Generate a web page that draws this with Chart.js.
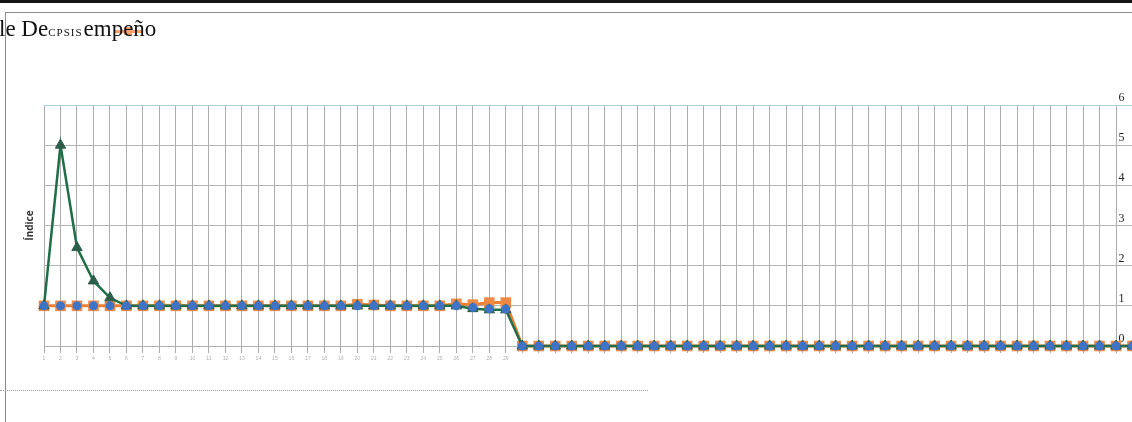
<!DOCTYPE html>
<html>
<head>
<meta charset="utf-8">
<script src="https://cdn.jsdelivr.net/npm/chart.js@4/dist/chart.umd.min.js"></script>
<style>
  html, body { margin: 0; padding: 0; background: #fff; overflow: hidden; width: 1132px; height: 422px; }
  #chart { position: absolute; left: 0; top: 0; }
  .topbar { position: absolute; left: 0; top: 0; width: 1132px; height: 3px; background: #151515; }
  .frameTop { position: absolute; left: 5px; top: 12px; width: 1127px; border-top: 1px solid #8c8c8c; }
  .frameLeft { position: absolute; left: 5px; top: 12px; height: 410px; border-left: 1px solid #8c8c8c; }
  .dots { position: absolute; left: 0; top: 390px; width: 648px; border-top: 1px dotted #a0a0a0; }
  #title { position: absolute; left: -1px; top: 16px; font-family: "Liberation Serif", serif; font-size: 23px; color: #111; white-space: nowrap; z-index: 2; }
  #title .lg { font-size: 11px; letter-spacing: 1px; margin-right: 1px; }
  .mark { position: absolute; left: 114px; top: 30px; width: 28px; height: 3px; background: #ed7d31; opacity: 0.7; z-index: 1; }
  .mark i { position: absolute; left: 10px; top: -3px; width: 8px; height: 8px; background: #ed7d31; }
</style>
</head>
<body>
<div class="topbar"></div>
<div class="frameTop"></div>
<div class="frameLeft"></div>
<canvas id="chart" width="1140" height="380"></canvas>
<div class="mark"><i></i></div>
<div id="title">le De<span class="lg">CPSIS</span>empeño</div>
<div class="dots"></div>
<script>
// categories (periods)
const periods = ['1','2','3','4','5','6','7','8','9','10','11','12','13','14','15','16','17','18','19','20',
  '21','22','23','24','25','26','27','28','29','30','31','32','33','34','35','36','37','38','39','40',
  '41','42','43','44','45','46','47','48','49','50','51','52','53','54','55','56','57','58','59','60',
  '61','62','63','64','65','66','67'];

// orange squares
const serieCP = [1,1,1,1,1,1,1,1,1,1,1,1,1,1,1,1,1,1,1,1.04,
  1.02,1,1,1,1,1.05,1.03,1.08,1.08,0,0,0,0,0,0,0,0,0,0,0,
  0,0,0,0,0,0,0,0,0,0,0,0,0,0,0,0,0,0,0,0,
  0,0,0,0,0,0,0];

// green triangles
const serieSI = [1,5,2.45,1.62,1.2,1,1,1,1,1,1,1,1,1,1,1,1,1,1,1,
  1,1,1,1,1,1,0.93,0.9,0.9,0,0,0,0,0,0,0,0,0,0,0,
  0,0,0,0,0,0,0,0,0,0,0,0,0,0,0,0,0,0,0,0,
  0,0,0,0,0,0,0];

// blue circles
const serieIS = [1,1,1,1,1,1,1,1,1,1,1,1,1,1,1,1,1,1,1,1,
  1,1,1,1,1,1,0.96,0.93,0.92,0,0,0,0,0,0,0,0,0,0,0,
  0,0,0,0,0,0,0,0,0,0,0,0,0,0,0,0,0,0,0,0,
  0,0,0,0,0,0,0];

const yTicks = [0, 1, 2, 3, 4, 5, 6];
const lastLabelled = 28;

new Chart(document.getElementById('chart'), {
  type: 'line',
  data: {
    labels: periods,
    datasets: [
      {
        label: 'IS',
        data: serieIS,
        showLine: false,
        pointStyle: 'circle',
        pointRadius: 4.5,
        backgroundColor: '#3f73c6',
        borderColor: '#3f73c6',
        borderWidth: 0,
        clip: false,
        order: 1
      },
      {
        label: 'SI',
        data: serieSI,
        borderColor: '#1f6e46',
        borderWidth: 2.5,
        pointStyle: 'triangle',
        pointRadius: 6,
        pointBackgroundColor: '#2d5e4c',
        pointBorderColor: '#2d5e4c',
        pointBorderWidth: 1,
        tension: 0,
        clip: false,
        order: 2
      },
      {
        label: 'CP',
        data: serieCP,
        borderColor: '#ed7d31',
        borderWidth: 3,
        pointStyle: 'rect',
        pointRadius: 7.5,
        pointBackgroundColor: '#ee8a45',
        pointBorderColor: '#ee8a45',
        pointBorderWidth: 0,
        tension: 0,
        clip: false,
        order: 3
      }
    ]
  },
  options: {
    responsive: false,
    animation: false,
    layout: { padding: { left: 24, right: 4, top: 105, bottom: 15 } },
    plugins: {
      legend: { display: false },
      tooltip: { enabled: false },
      title: { display: false }
    },
    scales: {
      x: {
        grid: { color: '#acacac', lineWidth: 1, tickLength: 7 },
        border: { color: '#b0b0b0' },
        ticks: {
          autoSkip: false,
          maxRotation: 0,
          padding: 3,
          color: '#b0b0b0',
          font: { size: 5 },
          callback: function (v, i) { return i <= lastLabelled ? periods[i] : ''; }
        }
      },
      y: {
        position: 'right',
        min: yTicks[0],
        max: yTicks[yTicks.length - 1],
        afterFit: function (scale) { scale.width = 0; },
        grid: {
          drawTicks: false,
          color: function (ctx) { return ctx.tick && ctx.tick.value === 6 ? '#a9d0e2' : '#b5b5b5'; }
        },
        border: { display: false },
        ticks: {
          stepSize: 1,
          mirror: true,
          padding: -8,
          labelOffset: -7,
          color: '#222',
          font: { family: 'Liberation Serif', size: 12 }
        }
      },
      yL: {
        position: 'left',
        min: 0,
        max: 6,
        grid: { display: false, drawTicks: false },
        border: { display: false },
        ticks: { display: false },
        title: {
          display: true,
          text: 'Índice',
          color: '#333',
          font: { family: 'Open Sans', size: 10, weight: 'bold' },
          padding: { top: 0, bottom: 8 }
        }
      }
    }
  }
});
</script>
</body>
</html>
